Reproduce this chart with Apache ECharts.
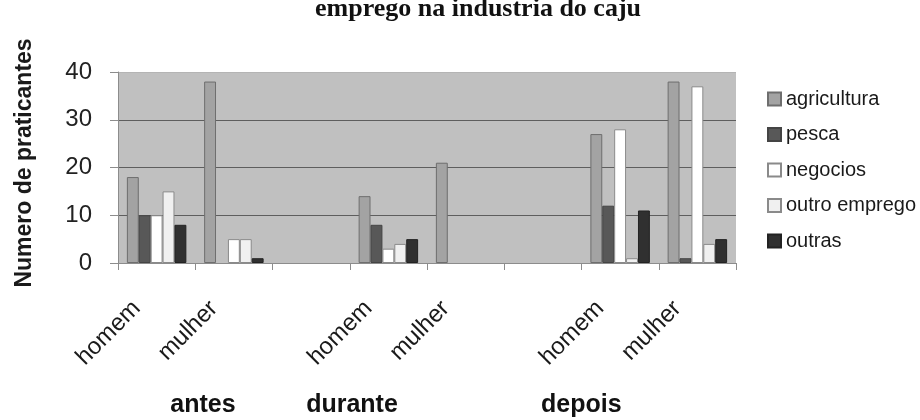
<!DOCTYPE html>
<html>
<head>
<meta charset="utf-8">
<script src="https://cdn.jsdelivr.net/npm/echarts@6/dist/echarts.min.js"></script>
<style>
  html, body { margin: 0; padding: 0; background: #ffffff; }
  #chart { width: 920px; height: 420px; }
</style>
</head>
<body>
<div id="chart"></div>
<script>
// Categories: sex within each period; blank slots separate the periods
const categories = ['homem', 'mulher', '', 'homem', 'mulher', '', 'homem', 'mulher'];
const periods = ['antes', 'durante', 'depois'];

// Number of practitioners per occupation
const agricultura   = [18, 38, null, 14, 21, null, 27, 38];
const pesca         = [10, 0, null, 8, 0, null, 12, 1];
const negocios      = [10, 5, null, 3, 0, null, 28, 37];
const outroEmprego  = [15, 5, null, 4, 0, null, 1, 4];
const outras        = [8, 1, null, 5, 0, null, 11, 5];

const yTicks = [0, 10, 20, 30, 40];

const seriesDefs = [
  { name: 'agricultura',   data: agricultura,  color: '#a3a3a3', border: '#6e6e6e' },
  { name: 'pesca',         data: pesca,        color: '#585858', border: '#444444' },
  { name: 'negocios',      data: negocios,     color: '#ffffff', border: '#8a8a8a' },
  { name: 'outro emprego', data: outroEmprego, color: '#f0f0f0', border: '#8a8a8a' },
  { name: 'outras',        data: outras,       color: '#303030', border: '#222222' }
];

// Zero-height bars get no outline so nothing shows on the baseline
function toItems(values) {
  return values.map(v => (v === 0 ? { value: v, itemStyle: { borderWidth: 0 } } : v));
}

const chart = echarts.init(document.getElementById('chart'));

const sans = 'Liberation Sans, Arial, sans-serif';

chart.setOption({
  animation: false,
  backgroundColor: '#ffffff',
  grid: {
    left: 118, right: 184, top: 72, bottom: 157,
    show: true, backgroundColor: '#c0c0c0', borderWidth: 0
  },
  legend: {
    orient: 'vertical',
    left: 762, top: 84,
    itemWidth: 13, itemHeight: 13, itemGap: 15.5,
    icon: 'rect',
    textStyle: { fontFamily: sans, fontSize: 20, color: '#1a1a1a' },
    data: seriesDefs.map(s => s.name)
  },
  xAxis: {
    type: 'category',
    data: categories,
    boundaryGap: true,
    axisLine: { lineStyle: { color: '#8c8c8c', width: 1 } },
    axisTick: { show: true, length: 7, lineStyle: { color: '#8c8c8c' } },
    axisLabel: {
      interval: 0,
      rotate: 45,
      margin: 22,
      padding: [0, 28, 0, 0],
      fontFamily: sans,
      fontSize: 24,
      color: '#1a1a1a'
    },
    splitLine: { show: false }
  },
  yAxis: {
    type: 'value',
    min: yTicks[0],
    max: yTicks[yTicks.length - 1],
    interval: 10,
    name: 'Numero de praticantes',
    nameLocation: 'middle',
    nameRotate: 90,
    nameGap: 82,
    nameTextStyle: { fontFamily: sans, fontSize: 23, fontWeight: 'bold', color: '#1a1a1a', padding: [0, 0, 0, 9] },
    axisLine: { show: true, lineStyle: { color: '#8c8c8c', width: 1 } },
    axisTick: { show: true, length: 8, lineStyle: { color: '#8c8c8c' } },
    axisLabel: { margin: 26, fontFamily: sans, fontSize: 24, color: '#222222' },
    splitLine: {
      show: true,
      lineStyle: { color: ['#8c8c8c', '#5e5e5e', '#5e5e5e', '#5e5e5e', '#b4b4b4'], width: 1 }
    }
  },
  series: seriesDefs.map(s => ({
    type: 'bar',
    name: s.name,
    data: toItems(s.data),
    barGap: '0%',
    barCategoryGap: '23%',
    itemStyle: { color: s.color, borderColor: s.border, borderWidth: 1 }
  })),
  graphic: [
    {
      type: 'text',
      x: 478,
      y: -4,
      style: {
        text: 'emprego na industria do caju',
        fontFamily: 'Liberation Serif, Times New Roman, serif',
        fontWeight: 'bold',
        fontSize: 26,
        fill: '#111111',
        align: 'center',
        verticalAlign: 'top'
      }
    },
    {
      type: 'text', x: 203, y: 405,
      style: { text: periods[0], fontFamily: sans, fontWeight: 'bold', fontSize: 25, fill: '#111111', align: 'center', verticalAlign: 'middle' }
    },
    {
      type: 'text', x: 352, y: 405,
      style: { text: periods[1], fontFamily: sans, fontWeight: 'bold', fontSize: 25, fill: '#111111', align: 'center', verticalAlign: 'middle' }
    },
    {
      type: 'text', x: 541, y: 405,
      style: { text: periods[2], fontFamily: sans, fontWeight: 'bold', fontSize: 25, fill: '#111111', align: 'left', verticalAlign: 'middle' }
    }
  ]
});
</script>
</body>
</html>
